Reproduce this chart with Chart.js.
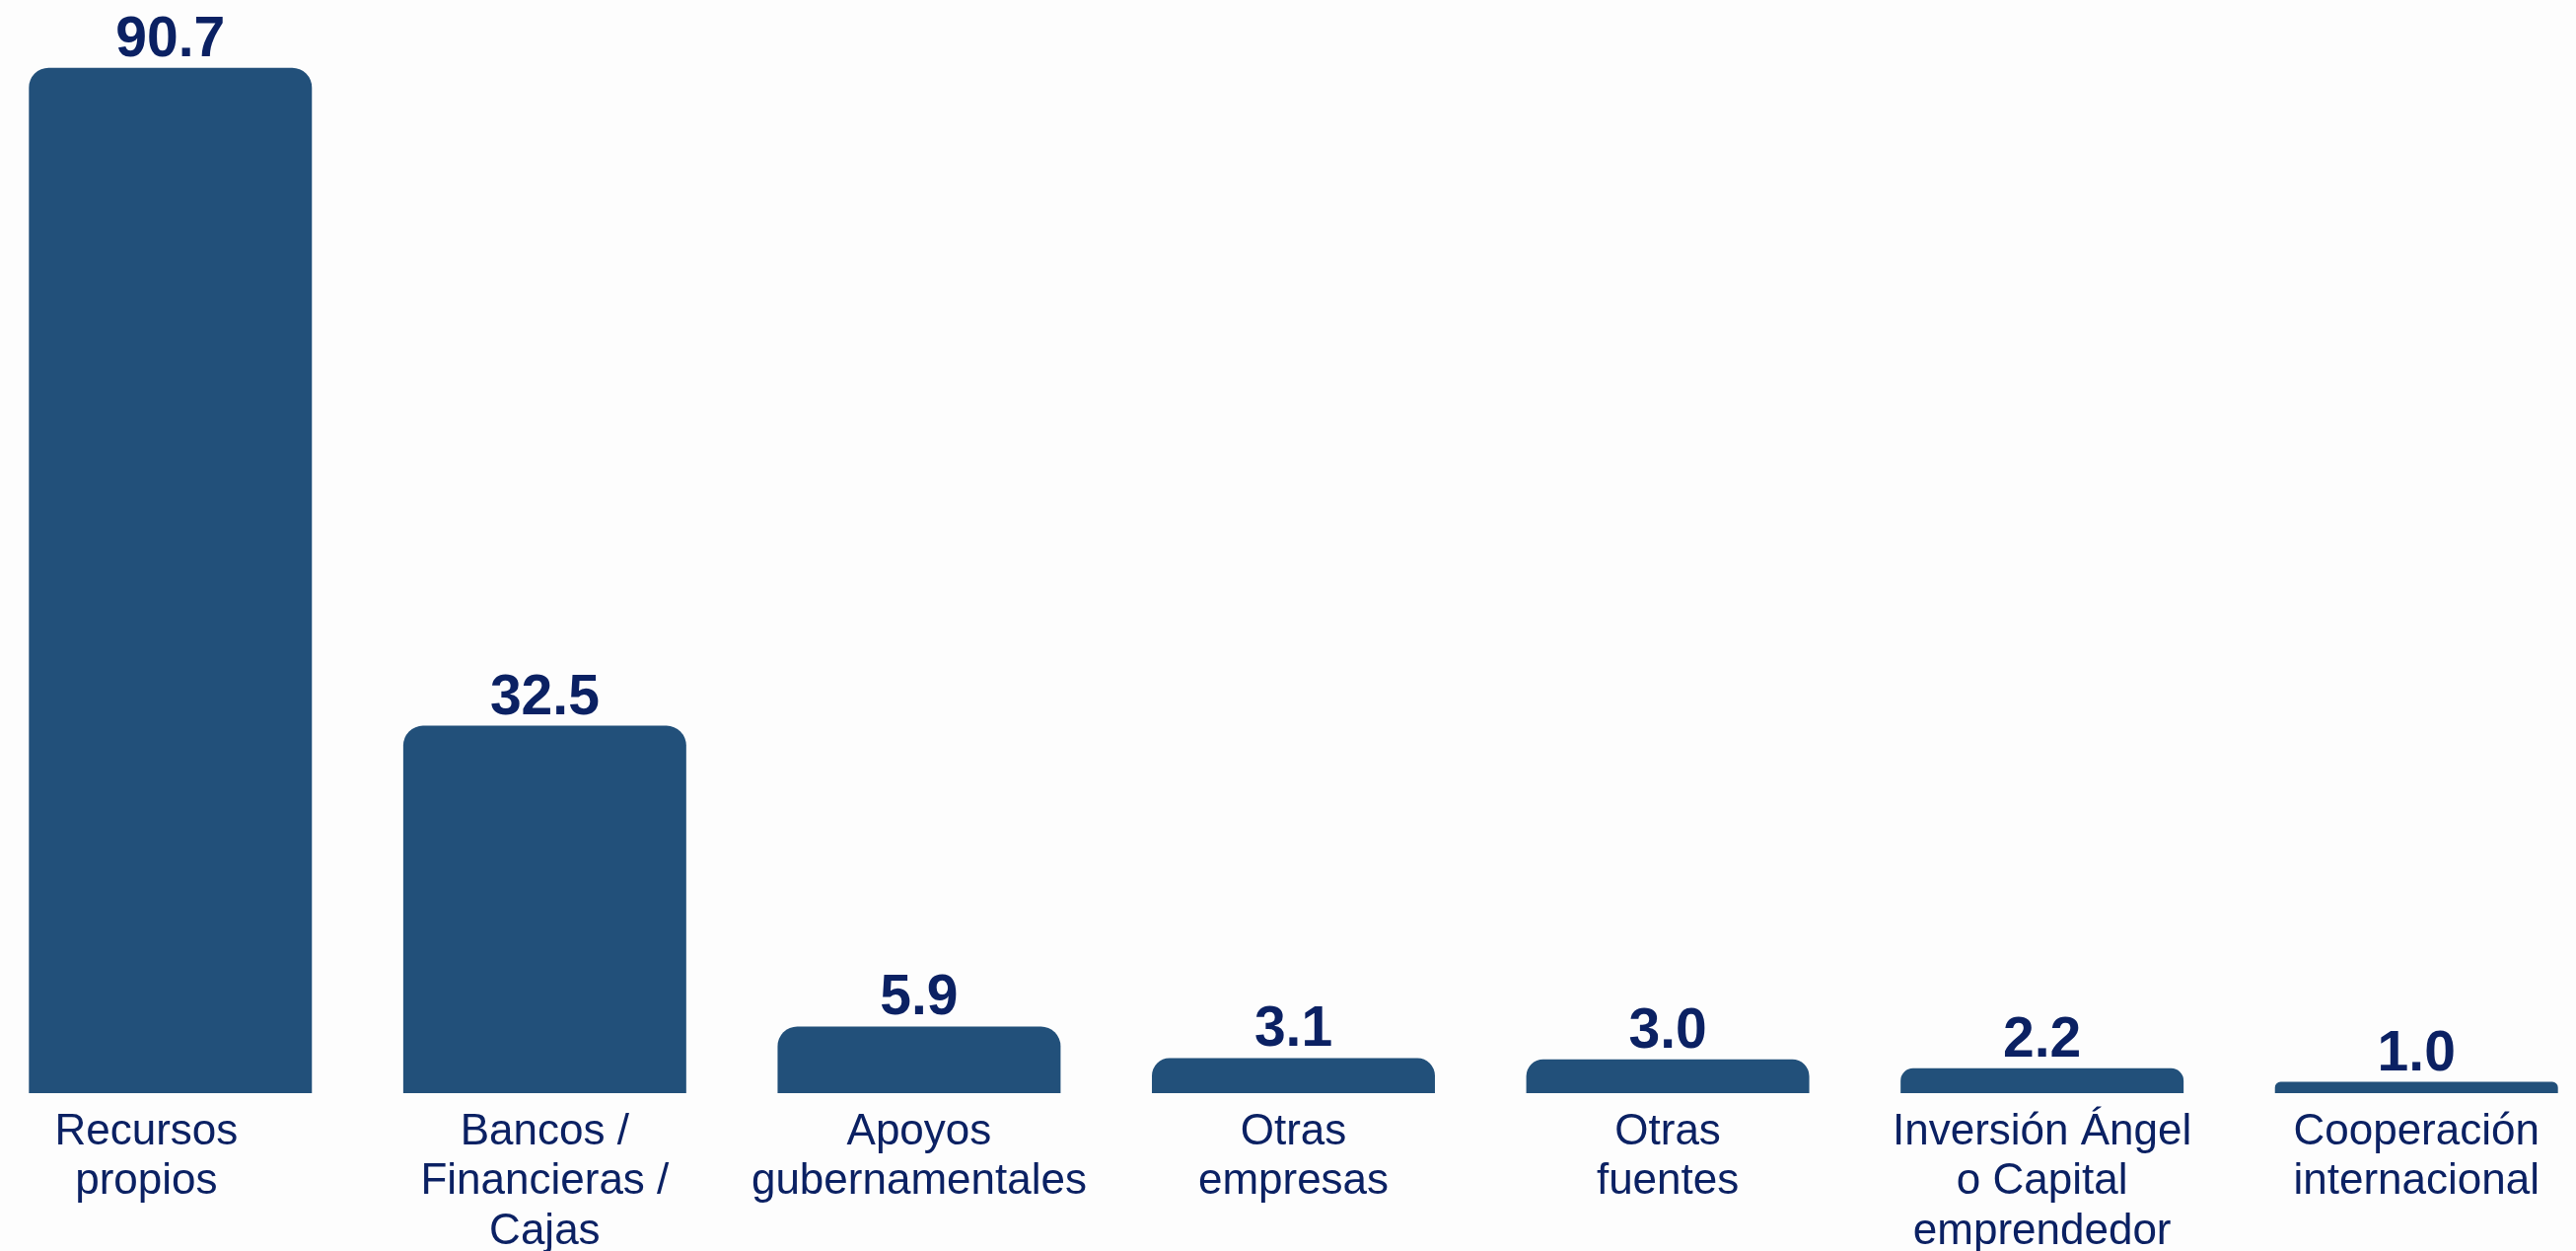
<!DOCTYPE html>
<html>
<head>
<meta charset="utf-8">
<script src="https://cdn.jsdelivr.net/npm/chart.js@4"></script>
<style>
  html, body { margin: 0; padding: 0; background: #fdfdfd; overflow: hidden; }
  #wrap { position: absolute; left: -17px; top: 0; width: 2657px; height: 1268px; }
</style>
</head>
<body>
<div id="wrap"><canvas id="grafica"></canvas></div>
<script>
// categorias y valores
let categorias = [
    ['Recursos    ', 'propios    '],
    ['Bancos /', 'Financieras /', 'Cajas'],
    ['Apoyos', 'gubernamentales'],
    ['Otras', 'empresas'],
    ['Otras', 'fuentes'],
    ['Inversión Ángel', 'o Capital', 'emprendedor'],
    ['Cooperación', 'internacional']
];
let valores = [90.7, 32.5, 5.9, 3.1, 3.0, 2.2, 1.0];

let colorBarra = '#22507a';
let colorTexto = '#0b2163';

// etiquetas de valor encima de cada barra
let etiquetas = {
    id: 'etiquetas',
    afterDatasetsDraw(chart) {
        let ctx = chart.ctx;
        let meta = chart.getDatasetMeta(0);
        ctx.save();
        ctx.font = 'bold 57px "Liberation Sans", Arial, sans-serif';
        ctx.fillStyle = colorTexto;
        ctx.textAlign = 'center';
        ctx.textBaseline = 'alphabetic';
        meta.data.forEach((bar, i) => {
            ctx.fillText(valores[i].toFixed(1), bar.x, bar.y - 12);
        });
        ctx.restore();
    }
};

let config = {
    type: 'bar',
    data: {
        labels: categorias,
        datasets: [{
            data: valores,
            backgroundColor: colorBarra,
            borderRadius: { topLeft: 20, topRight: 20 },
            borderSkipped: 'bottom',
            barPercentage: 0.756,
            categoryPercentage: 1
        }]
    },
    options: {
        responsive: true,
        maintainAspectRatio: false,
        animation: false,
        layout: { padding: 0 },
        plugins: {
            legend: { display: false },
            tooltip: { enabled: false },
            title: { display: false }
        },
        scales: {
            x: {
                grid: { display: false, drawTicks: false },
                border: { display: false },
                ticks: {
                    color: colorTexto,
                    font: { family: '"Liberation Sans", Arial, sans-serif', size: 44, lineHeight: 1.14 },
                    padding: 15,
                    maxRotation: 0,
                    autoSkip: false
                },
                // la tercera linea queda cortada por el borde inferior
                afterFit: function(scale) {
                    scale.height = 160;
                }
            },
            y: {
                display: false,
                min: 0,
                max: 96.7
            }
        }
    },
    plugins: [etiquetas]
};

let myChart = new Chart(document.getElementById('grafica'), config);
</script>
</body>
</html>
